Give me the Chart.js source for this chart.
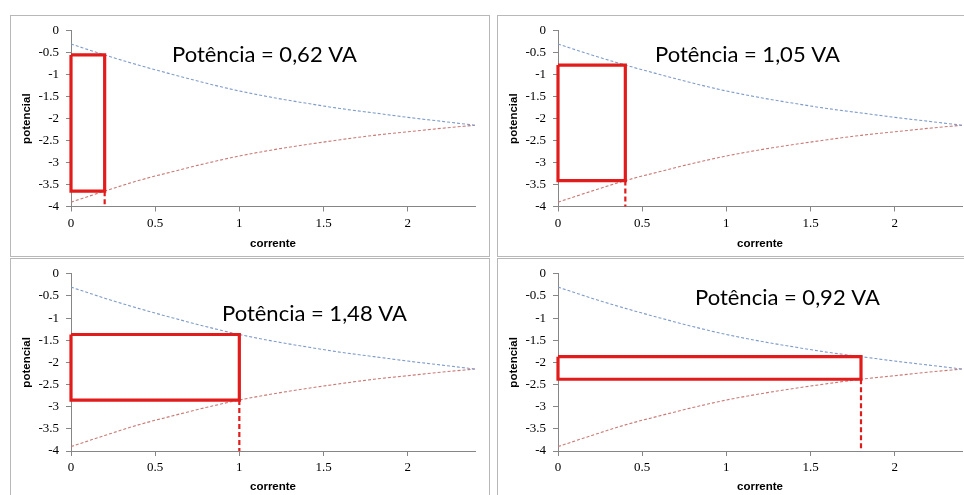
<!DOCTYPE html>
<html>
<head>
<meta charset="utf-8">
<script src="https://cdn.jsdelivr.net/npm/chart.js@4.4.1/dist/chart.umd.min.js"></script>
<style>
  html, body { margin: 0; padding: 0; background: #fff; width: 964px; height: 495px; overflow: hidden; }
  .panel { position: absolute; width: 480px; height: 242px; border: 1px solid #b8b8b8; box-sizing: border-box; background: #fff; }
  .panel canvas { position: absolute; left: 0; top: 0; }
</style>
</head>
<body>
<div class="panel" style="left:10px;top:15px"><canvas id="c0" width="478" height="240"></canvas></div>
<div class="panel" style="left:497px;top:15px"><canvas id="c1" width="478" height="240"></canvas></div>
<div class="panel" style="left:10px;top:258px"><canvas id="c2" width="478" height="240"></canvas></div>
<div class="panel" style="left:497px;top:258px"><canvas id="c3" width="478" height="240"></canvas></div>

<script>
// Current (A) sampled along both potential curves
const current = [0, 0.2, 0.4, 0.6, 0.8, 1.0, 1.2, 1.4, 1.6, 1.8, 2.0, 2.2, 2.4];
// Upper curve (blue) potential, V
const upperPotential = [-0.30, -0.55, -0.78, -0.99, -1.19, -1.37, -1.52, -1.65, -1.77, -1.87, -1.97, -2.06, -2.15];
// Lower curve (red) potential, V
const lowerPotential = [-3.90, -3.65, -3.41, -3.21, -3.02, -2.85, -2.71, -2.59, -2.48, -2.38, -2.30, -2.22, -2.15];
// Operating current of each of the four panels
const operatingCurrent = [0.2, 0.4, 1.0, 1.8];
// Axis ticks
const currentTicks = [0, 0.5, 1, 1.5, 2];
const potentialTicks = [0, -0.5, -1, -1.5, -2, -2.5, -3, -3.5, -4];

// Per-panel placement of the plot area and the power caption (pixels)
const panelLayout = [
  { padTop: 8.5, capDx: 101, capDy: 31.5 },
  { padTop: 8.5, capDx: 97,  capDy: 31.5 },
  { padTop: 10,  capDx: 151, capDy: 47 },
  { padTop: 10,  capDx: 137, capDy: 31 }
];

const AXIS_GREY = '#868686';
const PLOT_HEIGHT = 182;

const powerCaption = {
  id: 'powerCaption',
  afterDatasetsDraw(chart, args, opts) {
    const { ctx, chartArea } = chart;
    ctx.save();
    ctx.font = '22px Lato';
    ctx.fillStyle = '#000';
    ctx.textAlign = 'left';
    ctx.textBaseline = 'alphabetic';
    ctx.fillText(opts.text, chartArea.left + opts.dx, chartArea.top + opts.dy);
    ctx.restore();
  }
};

function curvePoints(values) {
  return current.map((x, i) => ({ x, y: values[i] }));
}

operatingCurrent.forEach((amp, p) => {
  const k = current.indexOf(amp);
  const top = upperPotential[k];
  const bottom = lowerPotential[k];
  const power = amp * (top - bottom);
  const caption = 'Potência = ' + power.toFixed(2).replace('.', ',') + ' VA';
  const lay = panelLayout[p];

  new Chart(document.getElementById('c' + p), {
    type: 'scatter',
    data: {
      datasets: [
        {
          // power rectangle
          data: [{ x: 0, y: top }, { x: amp, y: top }, { x: amp, y: bottom }, { x: 0, y: bottom }, { x: 0, y: top }],
          showLine: true, borderColor: '#e21b1b', borderWidth: 3.2, pointRadius: 0,
          borderJoinStyle: 'miter', tension: 0, order: 0, clip: 4
        },
        {
          // drop line down to the current axis
          data: [{ x: amp, y: bottom }, { x: amp, y: -4 }],
          showLine: true, borderColor: '#e21b1b', borderWidth: 2.2, borderDash: [5, 3],
          pointRadius: 0, order: 1, clip: 4
        },
        {
          data: curvePoints(upperPotential),
          showLine: true, borderColor: '#7f9cc9', borderWidth: 1.1, borderDash: [3, 2],
          pointRadius: 0, cubicInterpolationMode: 'monotone', order: 2
        },
        {
          data: curvePoints(lowerPotential),
          showLine: true, borderColor: '#c97a76', borderWidth: 1.1, borderDash: [3, 2],
          pointRadius: 0, cubicInterpolationMode: 'monotone', order: 3
        }
      ]
    },
    options: {
      responsive: false,
      animation: false,
      events: [],
      layout: { padding: { top: lay.padTop, right: 14, left: 0, bottom: 0 } },
      plugins: {
        legend: { display: false },
        tooltip: { enabled: false },
        powerCaption: { text: caption, dx: lay.capDx, dy: lay.capDy }
      },
      scales: {
        x: {
          type: 'linear', min: 0, max: 2.4,
          afterBuildTicks: s => { s.ticks = currentTicks.map(v => ({ value: v })); },
          afterFit: s => { s.height = 240 - lay.padTop - PLOT_HEIGHT; },
          ticks: { padding: 4, color: '#000', font: { family: 'Liberation Serif', size: 13 }, callback: v => String(v), maxRotation: 0 },
          grid: { drawOnChartArea: false, drawTicks: true, tickLength: 5, color: AXIS_GREY },
          border: { color: AXIS_GREY, width: 1 },
          title: { display: true, text: 'corrente', color: '#000', font: { family: 'Liberation Sans', size: 11.5, weight: 'bold' }, padding: { top: 0, bottom: 5 } }
        },
        y: {
          type: 'linear', min: -4, max: 0,
          afterBuildTicks: s => { s.ticks = potentialTicks.map(v => ({ value: v })); },
          afterFit: s => { s.width = 60; },
          ticks: { padding: 7, color: '#000', font: { family: 'Liberation Serif', size: 13 }, callback: v => String(v) },
          grid: { drawOnChartArea: false, drawTicks: true, tickLength: 5, color: AXIS_GREY },
          border: { color: AXIS_GREY, width: 1 },
          title: { display: true, text: 'potencial', color: '#000', font: { family: 'Liberation Sans', size: 11.5, weight: 'bold' }, padding: { top: 9, bottom: 0 } }
        }
      }
    },
    plugins: [powerCaption]
  });
});
</script>
</body>
</html>
